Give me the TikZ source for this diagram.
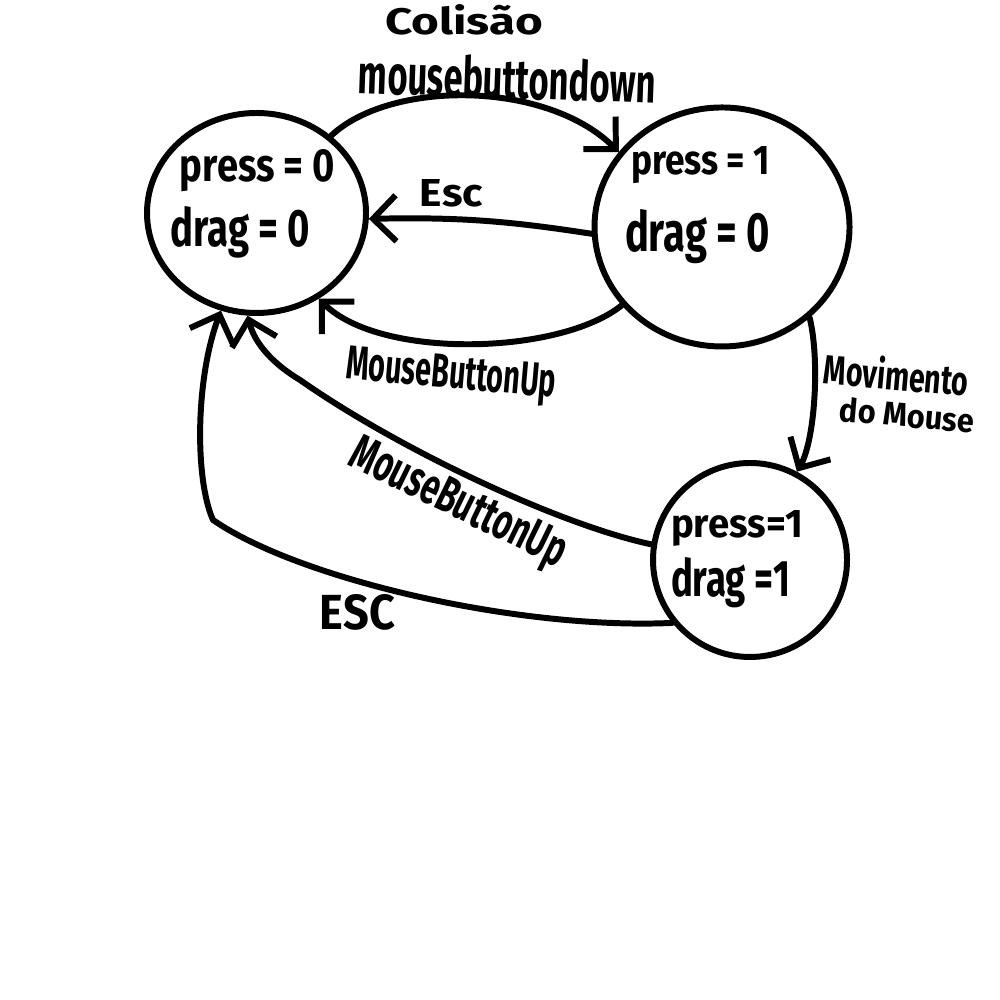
\documentclass[tikz,border=0pt]{standalone}
\usepackage{fontspec}
\setmainfont{Fira Sans}
\usetikzlibrary{shapes.geometric,arrows.meta}
\newcommand\fitbox[3]{\resizebox{#1}{#2}{#3}}
\begin{document}
\begin{tikzpicture}[
  line width=1.7pt, line cap=round, line join=round,
  state/.style={draw, ellipse, inner sep=0pt},
  txt/.style={inner sep=0pt, font=\bfseries},
  arr/.style={-{Straight Barb[length=2.3mm,width=4.6mm]}}
]
\fill[white] (0,0) rectangle (10,10);
\useasboundingbox (0,0) rectangle (10,10);

% states
\node[state, minimum width=2.19cm, minimum height=2.00cm] (A) at (2.565,7.87) {};
\node[state, minimum width=2.55cm, minimum height=2.39cm] (B) at (7.22,7.73) {};
\node[state, minimum width=1.94cm, minimum height=1.94cm] (C) at (7.50,4.40) {};

% state texts
\node[txt, anchor=base west] (a1) at (1.77,8.18) {\fitbox{1.55cm}{0.32cm}{press = 0}};
\node[txt, anchor=base west] (a2) at (1.68,7.53) {\fitbox{1.39cm}{0.40cm}{drag = 0}};
\node[txt, anchor=base west] (b1) at (6.28,8.25) {\fitbox{1.39cm}{0.28cm}{press = 1}};
\node[txt, anchor=base west] (b2) at (6.22,7.48) {\fitbox{1.45cm}{0.42cm}{drag = 0}};
\node[txt, anchor=base west] (c1) at (6.68,4.62) {\fitbox{1.32cm}{0.27cm}{press=1}};
\node[txt, anchor=base west] (c2) at (6.68,4.03) {\fitbox{1.19cm}{0.39cm}{drag =1}};

% edge labels
\node[txt, anchor=base west] (l1) at (3.82,9.65) {\fitbox{1.58cm}{0.30cm}{Colisão}};
\node[txt, anchor=base west, rotate=-2] (l2) at (3.55,9.07) {\fitbox{2.97cm}{0.42cm}{mousebuttondown}};
\node[txt, anchor=base west] (l3) at (4.17,7.93) {\fitbox{0.63cm}{0.27cm}{Esc}};
\node[txt, anchor=base, rotate=-5] (l4) at (4.50,6.12) {\fitbox{2.10cm}{0.33cm}{MouseButtonUp}};
\node[txt, anchor=base, rotate=-26] (l5) at (4.52,4.84) {\fitbox{2.35cm}{0.35cm}{MouseButtonUp}};
\node[txt, anchor=base west] (l6) at (3.17,3.70) {\fitbox{0.75cm}{0.35cm}{ESC}};
\node[txt, anchor=base, rotate=-5] (l7) at (8.95,6.10) {\fitbox{1.45cm}{0.33cm}{Movimento}};
\node[txt, anchor=base, rotate=-5] (l8) at (9.06,5.73) {\fitbox{1.35cm}{0.25cm}{do Mouse}};

% transitions
\draw[arr] (A.46) .. controls (3.9,9.2) and (5.46,9.2) .. (B.144);
\draw[arr] (B.183) to[bend right=5] (A.-3);
\draw[arr] (B.218) .. controls (5.6,6.45) and (3.8,6.4) .. (A.-54);
\draw[arr] (B.-46) .. controls (8.2,6.4) and (8.15,5.6) .. (C.62);
\draw[arr] (C.171) .. controls (5.6,4.75) and (4.0,5.5) .. (3.0,6.2)
           .. controls (2.75,6.35) and (2.55,6.55) .. (A.-95);
\draw[arr] (C.219) .. controls (5.2,3.7) and (3.0,4.2) .. (2.13,4.8)
           .. controls (1.95,5.2) and (1.95,6.2) .. (A.-110);
\end{tikzpicture}
\end{document}
